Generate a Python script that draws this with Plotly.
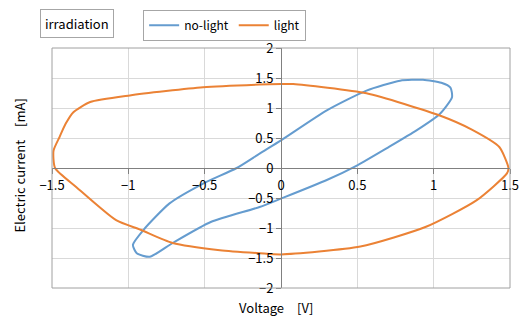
import plotly.graph_objects as go

# no-light loop (Voltage [V], Current [mA])
nolight_v = [0.93, 1.05, 1.11, 1.12, 1.04, 0.89, 0.70, 0.50, 0.30, 0.00, -0.14, -0.46, -0.71, -0.86, -0.945, -0.97, -0.90, -0.73, -0.51, -0.29, -0.14, 0.00, 0.30, 0.56, 0.78, 0.93]
nolight_i = [1.47, 1.42, 1.34, 1.18, 0.90, 0.63, 0.34, 0.045, -0.20, -0.51, -0.65, -0.90, -1.25, -1.48, -1.42, -1.28, -1.03, -0.59, -0.26, 0.00, 0.24, 0.46, 0.96, 1.29, 1.455, 1.47]

# light loop
light_v = [0.00, -0.14, -0.51, -0.99, -1.25, -1.36, -1.41, -1.45, -1.49, -1.48, -1.34, -1.08, -0.92, -0.71, -0.40, -0.14, 0.00, 0.52, 0.95, 1.28, 1.48, 1.49, 1.43, 1.25, 1.04, 0.56, 0.08, 0.00]
light_i = [1.40, 1.39, 1.345, 1.21, 1.10, 0.93, 0.74, 0.52, 0.29, 0.00, -0.32, -0.87, -1.03, -1.25, -1.37, -1.42, -1.44, -1.31, -0.98, -0.54, -0.09, 0.00, 0.35, 0.64, 0.875, 1.245, 1.40, 1.40]

x_ticks = [-1.5, -1, -0.5, 0, 0.5, 1, 1.5]
y_ticks = [-2, -1.5, -1, -0.5, 0, 0.5, 1, 1.5, 2]

FONT = "Noto Sans CJK JP"

fig = go.Figure()
fig.add_trace(go.Scatter(x=nolight_v, y=nolight_i, mode="lines", name="no-light",
                         line=dict(color="#659CCF", width=2, shape="spline", smoothing=0.6)))
fig.add_trace(go.Scatter(x=light_v, y=light_i, mode="lines", name="light",
                         line=dict(color="#EB8235", width=2, shape="spline", smoothing=0.6)))

fig.update_layout(
    width=521, height=318,
    margin=dict(l=52, r=11, t=47, b=30),
    paper_bgcolor="white", plot_bgcolor="white",
    font=dict(family=FONT, size=13, color="#000000"),
    showlegend=True,
    legend=dict(orientation="h", x=0.199, y=1.155, xanchor="left", yanchor="top",
                bordercolor="#A6A6A6", borderwidth=1, bgcolor="white",
                font=dict(family=FONT, size=12, color="#000000"),
                itemwidth=30, tracegroupgap=0),
    xaxis=dict(range=[-1.5, 1.5], tickvals=x_ticks, anchor="free", position=0.5,
               showgrid=True, gridcolor="#D9D9D9", gridwidth=1,
               showline=True, linecolor="#808080", linewidth=1,
               zeroline=False, ticks="outside", ticklen=5, tickcolor="#808080",
               automargin=False, fixedrange=True),
    yaxis=dict(range=[-2, 2], tickvals=y_ticks, anchor="free", position=0.5,
               showgrid=True, gridcolor="#D9D9D9", gridwidth=1,
               showline=True, linecolor="#808080", linewidth=1,
               zeroline=False, ticks="outside", ticklen=5, tickcolor="#808080",
               automargin=False, fixedrange=True),
    shapes=[dict(type="rect", xref="paper", yref="paper", x0=0, x1=1, y0=0, y1=1,
                 line=dict(color="#A0A0A0", width=1), layer="above")],
    annotations=[
        dict(text="irradiation", xref="paper", yref="paper", x=0.0535, y=1.104,
             xanchor="center", yanchor="middle", showarrow=False,
             bordercolor="#A6A6A6", borderwidth=1, borderpad=4, bgcolor="white",
             font=dict(family=FONT, size=13, color="#000000")),
        dict(text="Electric current\u3000[mA]", xref="paper", yref="paper",
             x=-0.07, y=0.51, xanchor="center", yanchor="middle", textangle=-90,
             showarrow=False, font=dict(family=FONT, size=13, color="#000000")),
        dict(text="Voltage\u3000[V]", xref="paper", yref="paper",
             x=0.49, y=-0.08, xanchor="center", yanchor="middle",
             showarrow=False, font=dict(family=FONT, size=13, color="#000000")),
    ],
)

fig.write_html("out.html", config={"displayModeBar": False},
               post_script="document.body.style.margin='0';document.body.style.overflow='hidden';")
